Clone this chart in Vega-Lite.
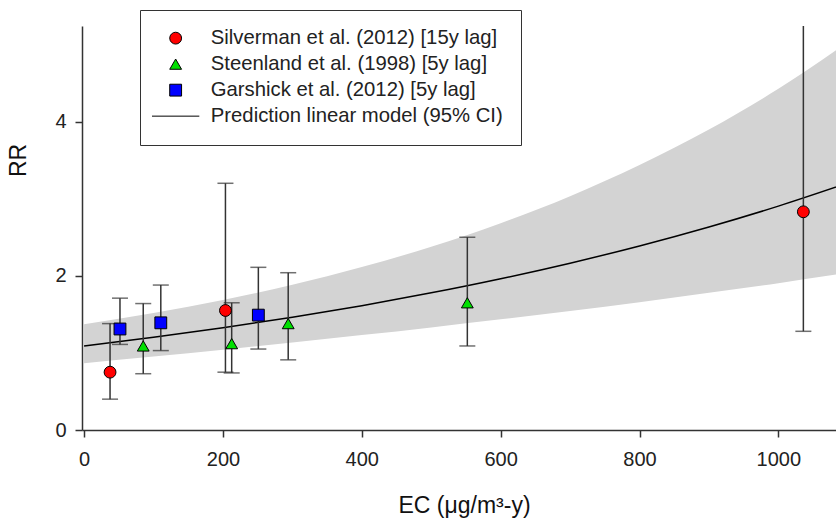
{
  "$schema": "https://vega.github.io/schema/vega-lite/v6.json",
  "autosize": {"type": "none"},
  "padding": {"left": 82, "top": 26, "right": 0, "bottom": 92},
  "width": 754,
  "height": 404,
  "background": "white",
  "config": {
    "view": {"stroke": null},
    "font": "Liberation Sans",
    "axis": {
      "grid": false,
      "domainColor": "#333",
      "domainWidth": 1.5,
      "tickColor": "#333",
      "tickWidth": 1.5,
      "tickSize": 7,
      "labelFont": "Liberation Sans",
      "labelFontSize": 20,
      "labelColor": "#222",
      "titleFont": "Liberation Sans",
      "titleFontSize": 23,
      "titleFontWeight": "normal",
      "titleColor": "#111"
    },
    "legend": {
      "orient": "none",
      "legendX": 58,
      "legendY": -16,
      "strokeColor": "#333",
      "fillColor": "white",
      "padding": 18,
      "rowPadding": 5,
      "labelFont": "Liberation Sans",
      "labelFontSize": 20.3,
      "labelColor": "#222",
      "labelLimit": 500,
      "symbolSize": 140,
      "symbolOffset": 7.5,
      "labelOffset": 25,
      "symbolStrokeColor": "black",
      "symbolStrokeWidth": 1,
      "symbolOpacity": 1
    }
  },
  "datasets": {
    "model": [
      {"ec": 0, "fit": 1.090, "lo": 0.866, "hi": 1.372},
      {"ec": 100, "fit": 1.202, "lo": 0.952, "hi": 1.517},
      {"ec": 200, "fit": 1.326, "lo": 1.042, "hi": 1.686},
      {"ec": 300, "fit": 1.462, "lo": 1.135, "hi": 1.884},
      {"ec": 400, "fit": 1.613, "lo": 1.231, "hi": 2.113},
      {"ec": 500, "fit": 1.779, "lo": 1.331, "hi": 2.377},
      {"ec": 600, "fit": 1.962, "lo": 1.435, "hi": 2.682},
      {"ec": 700, "fit": 2.164, "lo": 1.544, "hi": 3.033},
      {"ec": 800, "fit": 2.387, "lo": 1.658, "hi": 3.436},
      {"ec": 900, "fit": 2.633, "lo": 1.779, "hi": 3.897},
      {"ec": 1000, "fit": 2.904, "lo": 1.905, "hi": 4.425},
      {"ec": 1100, "fit": 3.203, "lo": 2.039, "hi": 5.030}
    ],
    "studies": [
      {"series": "Silverman et al. (2012) [15y lag]", "ec": 37.4, "rr": 0.75, "lo": 0.40, "hi": 1.38},
      {"series": "Garshick et al. (2012) [5y lag]", "ec": 51.7, "rr": 1.31, "lo": 1.11, "hi": 1.71},
      {"series": "Steenland et al. (1998) [5y lag]", "ec": 85.2, "rr": 1.09, "lo": 0.73, "hi": 1.64},
      {"series": "Garshick et al. (2012) [5y lag]", "ec": 110.5, "rr": 1.39, "lo": 1.03, "hi": 1.88},
      {"series": "Silverman et al. (2012) [15y lag]", "ec": 203.6, "rr": 1.55, "lo": 0.75, "hi": 3.20},
      {"series": "Steenland et al. (1998) [5y lag]", "ec": 212.6, "rr": 1.12, "lo": 0.74, "hi": 1.65},
      {"series": "Garshick et al. (2012) [5y lag]", "ec": 251.0, "rr": 1.49, "lo": 1.05, "hi": 2.11},
      {"series": "Steenland et al. (1998) [5y lag]", "ec": 294.0, "rr": 1.38, "lo": 0.91, "hi": 2.04},
      {"series": "Steenland et al. (1998) [5y lag]", "ec": 552.0, "rr": 1.65, "lo": 1.09, "hi": 2.50},
      {"series": "Silverman et al. (2012) [15y lag]", "ec": 1036.0, "rr": 2.83, "lo": 1.28, "hi": 6.50}
    ]
  },
  "layer": [
    {
      "data": {"name": "model"},
      "mark": {"type": "area", "color": "#d3d3d3", "clip": true, "interpolate": "monotone"},
      "encoding": {
        "x": {"field": "ec", "type": "quantitative", "scale": {"domain": [-3, 1083], "nice": false, "zero": false},
          "axis": {"values": [0, 200, 400, 600, 800, 1000], "format": "d", "title": "EC (μg/m³-y)", "labelPadding": 12, "titleX": 382, "titleY": 82, "titleBaseline": "alphabetic", "titleAnchor": null, "titleAlign": "center"}},
        "y": {"field": "lo", "type": "quantitative", "scale": {"domain": [0, 5.24], "nice": false},
          "axis": {"values": [0, 2, 4], "format": "d", "title": "RR", "labelPadding": 9, "titleAngle": -90, "titleX": -64, "titleY": 134, "titleAlign": "center", "titleBaseline": "middle"}},
        "y2": {"field": "hi"}
      }
    },
    {
      "data": {"name": "model"},
      "mark": {"type": "line", "color": "black", "strokeWidth": 1.5, "clip": true, "interpolate": "monotone"},
      "encoding": {
        "x": {"field": "ec", "type": "quantitative"},
        "y": {"field": "fit", "type": "quantitative"}
      }
    },
    {
      "data": {"name": "studies"},
      "mark": {"type": "rule", "color": "#333", "strokeWidth": 1.5, "clip": true},
      "encoding": {
        "x": {"field": "ec", "type": "quantitative"},
        "y": {"field": "lo", "type": "quantitative"},
        "y2": {"field": "hi"}
      }
    },
    {
      "data": {"name": "studies"},
      "mark": {"type": "tick", "orient": "horizontal", "color": "#333", "size": 16, "thickness": 1.5, "clip": true},
      "encoding": {
        "x": {"field": "ec", "type": "quantitative"},
        "y": {"field": "lo", "type": "quantitative"}
      }
    },
    {
      "data": {"name": "studies"},
      "mark": {"type": "tick", "orient": "horizontal", "color": "#333", "size": 16, "thickness": 1.5, "clip": true},
      "encoding": {
        "x": {"field": "ec", "type": "quantitative"},
        "y": {"field": "hi", "type": "quantitative"}
      }
    },
    {
      "data": {"name": "studies"},
      "mark": {"type": "point", "filled": true, "strokeWidth": 1, "opacity": 1, "size": 140},
      "encoding": {
        "x": {"field": "ec", "type": "quantitative"},
        "y": {"field": "rr", "type": "quantitative"},
        "fill": {"field": "series", "type": "nominal",
          "scale": {"domain": ["Silverman et al. (2012) [15y lag]", "Steenland et al. (1998) [5y lag]", "Garshick et al. (2012) [5y lag]", "Prediction linear model (95% CI)"],
            "range": ["#ff0000", "#00e000", "#0000ff", "#000000"]},
          "legend": {"title": null}},
        "stroke": {"field": "series", "type": "nominal",
          "scale": {"domain": ["Silverman et al. (2012) [15y lag]", "Steenland et al. (1998) [5y lag]", "Garshick et al. (2012) [5y lag]", "Prediction linear model (95% CI)"],
            "range": ["#000000", "#000000", "#000000", "#000000"]},
          "legend": {"title": null}},
        "shape": {"field": "series", "type": "nominal",
          "scale": {"domain": ["Silverman et al. (2012) [15y lag]", "Steenland et al. (1998) [5y lag]", "Garshick et al. (2012) [5y lag]", "Prediction linear model (95% CI)"],
            "range": ["circle", "triangle-up", "square", "M-4,0H4"]},
          "legend": {"title": null}}
      }
    }
  ]
}
